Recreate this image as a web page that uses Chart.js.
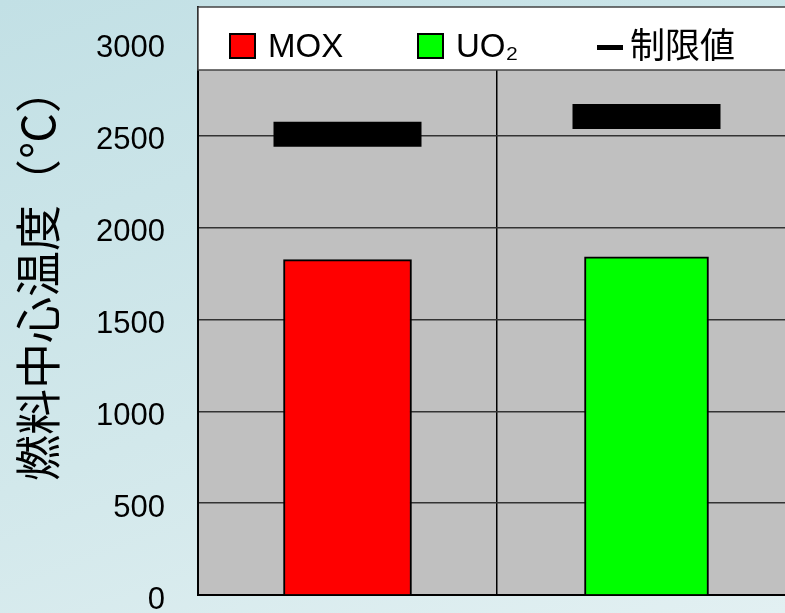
<!DOCTYPE html>
<html>
<head>
<meta charset="utf-8">
<script src="https://cdn.jsdelivr.net/npm/chart.js@4.4.1/dist/chart.umd.min.js"></script>
<style>
html, body { margin: 0; padding: 0; width: 785px; height: 613px; overflow: hidden;
  background: linear-gradient(160deg, #c2e0e5 0%, #d2e8eb 55%, #e2f0f2 100%); }
#c { position: absolute; left: 0; top: 0; }
</style>
</head>
<body>
<canvas id="c" width="800" height="613"></canvas>
<script>
var categories = ['MOX', 'UO2']
var moxValues = [1825, null]
var uo2Values = [null, 1840]
var limitValues = [2507, 2604]
var yTicks = [0, 500, 1000, 1500, 2000, 2500, 3000]
var yMax = 3200
var yTitle = '燃料中心温度（℃）'
var seriesLabels = ['MOX', 'UO₂', '制限値']

// gray plot background
var plotBg = {
  id: 'plotBg',
  beforeDraw: function(chart){
    var a = chart.chartArea, ctx = chart.ctx
    ctx.save()
    ctx.fillStyle = '#c0c0c0'
    ctx.fillRect(a.left, a.top, a.right - a.left, a.bottom - a.top)
    ctx.restore()
  }
}

// white legend strip across the top of the plot
var legendBox = {
  id: 'legendBox',
  afterDatasetsDraw: function(chart){
    var a = chart.chartArea, ctx = chart.ctx
    var ds = chart.data.datasets
    ctx.save()
    ctx.fillStyle = '#fff'
    ctx.fillRect(a.left, a.top, a.right - a.left, 63)
    ctx.strokeStyle = '#444'
    ctx.lineWidth = 1.5
    ctx.strokeRect(a.left, a.top, a.right - a.left, 63)

    var boxX = [230, 418]
    ctx.font = '33px "Liberation Sans", Arial, "DejaVu Sans"'
    ctx.textBaseline = 'middle'
    for (var i = 0; i < 2; i++) {
      ctx.fillStyle = ds[i].backgroundColor
      ctx.fillRect(boxX[i], 34, 25, 24)
      ctx.strokeStyle = '#000'
      ctx.lineWidth = 2
      ctx.strokeRect(boxX[i], 34, 25, 24)
      ctx.fillStyle = '#000'
      ctx.fillText(ds[i].label, boxX[i] + 38, 48)
    }
    ctx.strokeStyle = ds[2].borderColor
    ctx.lineWidth = 5
    ctx.beginPath()
    ctx.moveTo(597, 47.5)
    ctx.lineTo(623, 47.5)
    ctx.stroke()
    ctx.font = '35px "Noto Sans CJK JP"'
    ctx.fillText(ds[2].label, 630, 45)
    ctx.restore()
  }
}

var yAxisTitle = {
  id: 'yAxisTitle',
  afterDraw: function(chart){
    var ctx = chart.ctx
    ctx.save()
    ctx.translate(38, 274)
    ctx.rotate(-Math.PI / 2)
    ctx.font = '46px "Noto Sans CJK JP"'
    ctx.fillStyle = '#000'
    ctx.textAlign = 'center'
    ctx.textBaseline = 'middle'
    ctx.fillText(yTitle, 0, 0)
    ctx.restore()
  }
}

var chart = new Chart(document.getElementById('c'), {
  type: 'bar',
  data: {
    labels: categories,
    datasets: [
      {
        label: seriesLabels[0],
        data: moxValues,
        backgroundColor: '#ff0000',
        borderColor: '#000',
        borderWidth: 2,
        barThickness: 128,
        grouped: false
      },
      {
        label: seriesLabels[1],
        data: uo2Values,
        backgroundColor: '#00ff00',
        borderColor: '#000',
        borderWidth: 2,
        barThickness: 124,
        grouped: false
      },
      {
        type: 'line',
        label: seriesLabels[2],
        data: limitValues,
        showLine: false,
        borderColor: '#000',
        backgroundColor: '#000',
        pointStyle: 'line',
        pointRadius: 74,
        pointHoverRadius: 74,
        pointBorderWidth: 25,
        pointHoverBorderWidth: 25
      }
    ]
  },
  options: {
    responsive: false,
    devicePixelRatio: 1,
    animation: false,
    events: [],
    layout: { autoPadding: false, padding: { top: 7, right: 4, bottom: 0, left: 0 } },
    plugins: {
      legend: { display: false },
      tooltip: { enabled: false }
    },
    scales: {
      x: {
        ticks: { display: false },
        grid: { color: '#000', lineWidth: 1.5, drawTicks: false, offset: true },
        border: { color: '#000', width: 2 },
        afterFit: function(scale){
          scale.height = 18
          scale.paddingLeft = 0
          scale.paddingRight = 0
        }
      },
      y: {
        min: 0,
        max: yMax,
        afterBuildTicks: function(scale){
          scale.ticks = yTicks.map(function(v){ return { value: v } })
        },
        ticks: {
          color: '#000',
          padding: 33,
          labelOffset: 5,
          font: { family: '"Liberation Sans", Arial', size: 31 },
          callback: function(v){ return String(v) }
        },
        grid: { color: '#333', lineWidth: 1.5, drawTicks: false },
        border: { color: '#000', width: 2 },
        afterFit: function(scale){
          scale.width = 198
          scale.paddingTop = 0
          scale.paddingBottom = 0
        }
      }
    }
  },
  plugins: [plotBg, legendBox, yAxisTitle]
})
</script>
</body>
</html>
